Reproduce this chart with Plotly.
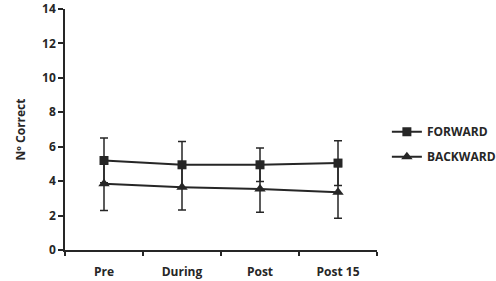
import plotly.graph_objects as go

categories = ["Pre", "During", "Post", "Post 15"]
forward = [5.2, 4.95, 4.95, 5.05]
forward_err = [1.3, 1.35, 0.97, 1.3]
backward = [3.85, 3.65, 3.55, 3.35]
backward_err = [1.55, 1.32, 1.36, 1.5]
y_ticks = [0, 2, 4, 6, 8, 10, 12, 14]

ink = "#262626"
font_family = "Open Sans"

fig = go.Figure()
fig.add_trace(go.Scatter(
    x=categories, y=forward, name="FORWARD", mode="lines+markers",
    line=dict(color=ink, width=2),
    marker=dict(symbol="square", size=9, color=ink),
    error_y=dict(type="data", array=forward_err, color=ink, thickness=1.5, width=4),
    legendgroup="f",
))
fig.add_trace(go.Scatter(
    x=categories, y=backward, name="BACKWARD", mode="lines+markers",
    line=dict(color=ink, width=2),
    marker=dict(symbol="triangle-up", size=10, color=ink),
    error_y=dict(type="data", array=backward_err, color=ink, thickness=1.5, width=4),
    legendgroup="b",
))

fig.update_layout(
    width=496, height=281,
    margin=dict(l=65, r=119, t=9, b=31, autoexpand=False),
    paper_bgcolor="white", plot_bgcolor="white",
    font=dict(family=font_family, size=12, color=ink),
    showlegend=True,
    legend=dict(
        xref="container", yref="container",
        x=0.78, y=0.583, xanchor="left", yanchor="top",
        traceorder="grouped", tracegroupgap=6,
        font=dict(family=font_family, size=12, color=ink, weight="bold"),
        bgcolor="rgba(0,0,0,0)",
    ),
    xaxis=dict(
        type="category", range=[-0.5, 3.5], automargin=False,
        showline=True, linecolor=ink, linewidth=1.5,
        ticks="outside", tickson="boundaries", ticklen=4, tickcolor=ink, tickwidth=1.5,
        showgrid=False, zeroline=False,
        tickfont=dict(family=font_family, size=12, color=ink, weight="bold"),
        ticklabelstandoff=10,
    ),
    yaxis=dict(
        range=[0, 14], tickvals=y_ticks, automargin=False,
        showline=True, linecolor=ink, linewidth=1.5,
        ticks="outside", ticklen=5, tickcolor=ink, tickwidth=1.5,
        showgrid=False, zeroline=False,
        tickfont=dict(family=font_family, size=12, color=ink, weight="bold"),
        title=dict(text="Nº Correct", font=dict(family=font_family, size=12, color=ink, weight="bold"), standoff=14),
    ),
)

fig.write_html("out.html")
